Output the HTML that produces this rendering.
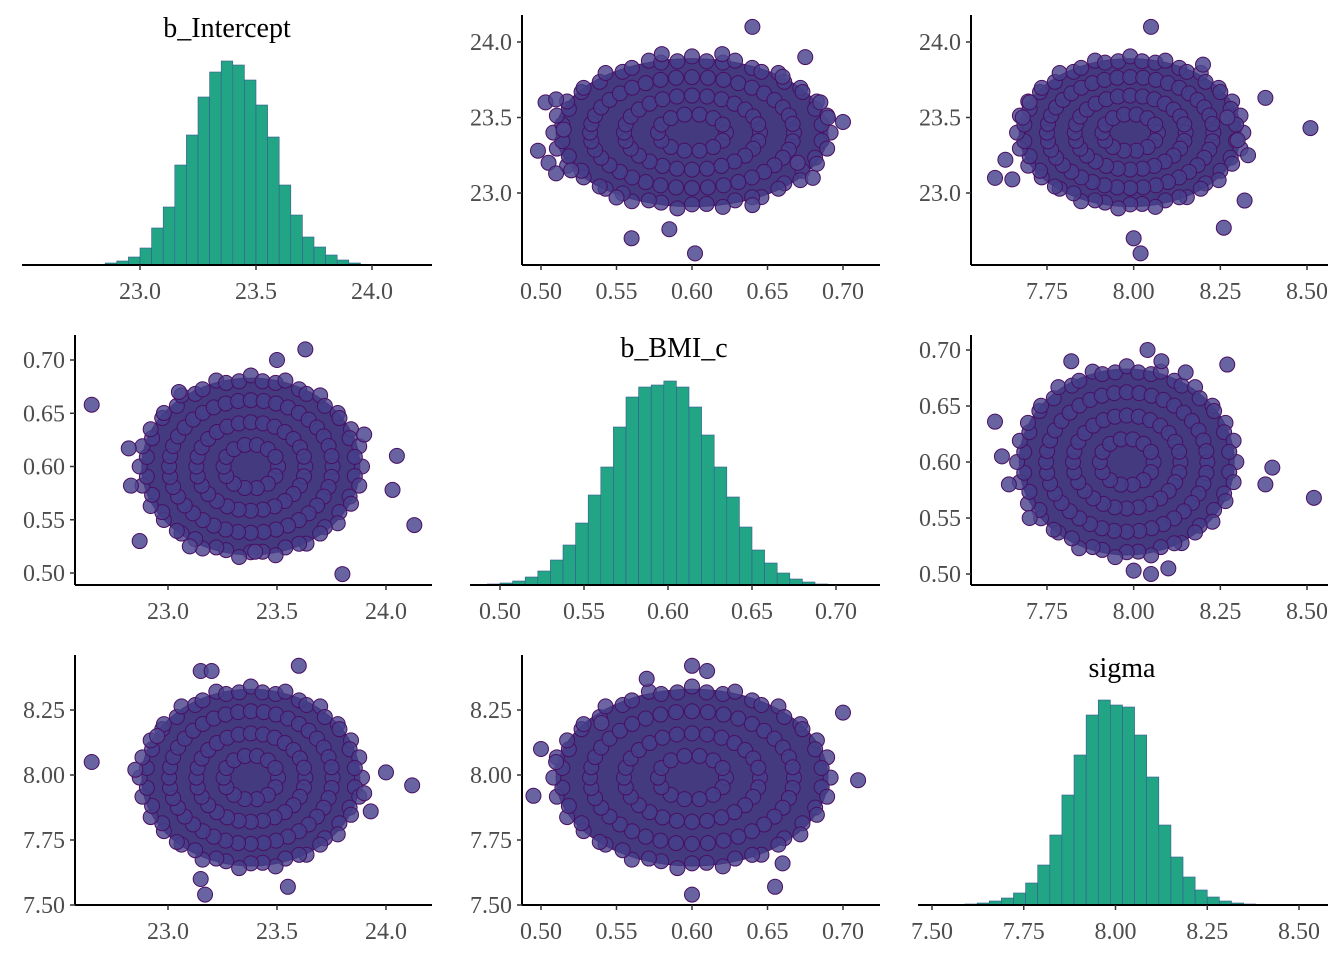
<!DOCTYPE html>
<html><head><meta charset="utf-8"><style>
html,body{margin:0;padding:0;background:#fff;}
svg{display:block;font-family:"Liberation Serif",serif;}
</style></head><body>
<svg id="chart" width="1344" height="960" viewBox="0 0 1344 960"></svg>
<script>
// ---- data ----
const histInterceptStart = 22.85, histInterceptWidth = 0.05;
const histInterceptCounts = [2,4,8,17,37,58,100,130,168,193,204,200,185,160,128,80,50,28,18,10,5,2];
const histBmiStart = 0.4925, histBmiWidth = 0.0075;
const histBmiCounts = [1,2,4,8,14,25,40,62,90,118,158,188,198,200,204,198,178,150,118,88,58,35,22,12,6,3,1];
const histSigmaStart = 7.59, histSigmaWidth = 0.033;
const histSigmaCounts = [1,2,4,7,12,22,40,70,110,150,190,205,200,198,170,128,80,48,28,15,8,4,2,1];
const xTicksIntercept = [23.0,23.5,24.0];
const xTicksBmi = [0.50,0.55,0.60,0.65,0.70];
const xTicksSigma = [7.50,7.75,8.00,8.25,8.50];
const yTicksIntercept = [23.0,23.5,24.0];
const yTicksBmi = [0.50,0.55,0.60,0.65,0.70];
const yTicksSigma = [7.50,7.75,8.00,8.25];
const center_bmi_int = [0.600,23.40], spread_bmi_int = [0.090,0.49];
const outliers_bmi_int = [[0.498,23.28],[0.503,23.60],[0.51,23.62],[0.505,23.2],[0.51,23.13],[0.515,23.42],[0.52,23.15],[0.56,22.7],[0.585,22.76],[0.602,22.6],[0.64,24.1],[0.62,23.92],[0.58,23.92],[0.685,23.6],[0.69,23.5],[0.70,23.47],[0.675,23.9],[0.68,23.1],[0.66,23.77],[0.55,22.97],[0.64,22.92],[0.67,23.2]];
const center_sig_int = [7.99,23.40], spread_sig_int = [0.32,0.49];
const outliers_sig_int = [[7.6,23.1],[7.63,23.22],[7.65,23.09],[7.68,23.5],[8.0,22.7],[8.02,22.6],[8.05,24.1],[8.38,23.63],[8.51,23.43],[8.33,23.25],[8.32,22.95],[8.26,22.77],[8.30,23.35],[8.27,23.5],[7.7,23.6],[8.2,23.85]];
const center_int_bmi = [23.38,0.600], spread_int_bmi = [0.50,0.083];
const outliers_int_bmi = [[22.65,0.658],[22.82,0.617],[22.83,0.582],[22.87,0.53],[24.05,0.61],[24.03,0.578],[24.13,0.545],[23.8,0.499],[23.63,0.71],[23.5,0.70],[23.05,0.67],[23.1,0.525],[23.4,0.52],[23.9,0.63]];
const center_sig_bmi = [7.98,0.600], spread_sig_bmi = [0.31,0.083];
const outliers_sig_bmi = [[7.6,0.636],[7.62,0.605],[7.64,0.58],[8.52,0.568],[8.4,0.595],[8.38,0.58],[8.04,0.70],[8.08,0.69],[7.82,0.69],[8.27,0.687],[8.0,0.503],[8.05,0.50],[8.1,0.505],[8.15,0.68],[7.7,0.55]];
const center_int_sig = [23.38,7.99], spread_int_sig = [0.50,0.34];
const outliers_int_sig = [[22.65,8.05],[22.85,8.02],[24.12,7.96],[24.0,8.01],[23.9,7.93],[23.6,8.42],[23.15,8.4],[23.2,8.4],[23.55,7.57],[23.17,7.54],[23.15,7.6],[23.93,7.86],[22.95,8.15]];
const center_bmi_sig = [0.600,7.99], spread_bmi_sig = [0.090,0.34];
const outliers_bmi_sig = [[0.495,7.92],[0.50,8.1],[0.51,8.05],[0.60,7.54],[0.655,7.57],[0.71,7.98],[0.70,8.24],[0.60,8.42],[0.61,8.4],[0.57,8.37],[0.54,8.2],[0.66,7.66]];

const NS='http://www.w3.org/2000/svg';
const svg=document.getElementById('chart');
function mk(tag,attrs,parent){const e=document.createElementNS(NS,tag);for(const k in attrs)e.setAttribute(k,attrs[k]);(parent||svg).appendChild(e);return e;}
function lin(d0,p0,d1,p1){return v=>p0+(v-d0)*(p1-p0)/(d1-d0);}

const sx = {
  int1: lin(23.0,140,24.0,372), bmi1: lin(0.50,541,0.70,843), sig1: lin(7.75,1047,8.50,1307),
  int2: lin(23.0,168,24.0,386), bmi2: lin(0.50,500,0.70,836), sig2: lin(7.50,932,8.50,1299)
};
const sy = {
  int1: lin(23.0,193,24.0,42), bmi2: lin(0.50,573,0.70,360), bmi3: lin(0.50,574,0.70,350),
  sig3: lin(7.50,905,8.25,710)
};

function xAxis(g,x0,x1,y,ticks,sc,fmt){
  const a=mk('g',{},g);
  
  
  mk('line',{x1:x0,x2:x1,y1:y,y2:y,stroke:'#000','stroke-width':2},a);
  ticks.forEach(t=>{const px=sc(t);
    mk('line',{x1:px,x2:px,y1:y,y2:y+5,stroke:'#333','stroke-width':1.5},a);
    const tx=mk('text',{x:px,y:y+34,'text-anchor':'middle','font-size':24,fill:'#4d4d4d'},a);tx.textContent=t.toFixed(fmt);
    
    
  });
}
function yAxis(g,x,y0,y1,ticks,sc,fmt){
  const a=mk('g',{},g);
  
  
  mk('line',{x1:x,x2:x,y1:y0,y2:y1,stroke:'#000','stroke-width':2},a);
  ticks.forEach(t=>{const py=sc(t);
    mk('line',{x1:x-5,x2:x,y1:py,y2:py,stroke:'#333','stroke-width':1.5},a);
    const tx=mk('text',{x:x-10,y:py+8,'text-anchor':'end','font-size':24,fill:'#4d4d4d'},a);tx.textContent=t.toFixed(fmt);
    
    
  });
}
function hist(name,start,w,counts,sc,base,title,tx,x0,x1,ticks,fmt){
  const g=mk('g',{});
  
  
  counts.forEach((c,i)=>{
    const a=sc(start+i*w), b=sc(start+(i+1)*w);
    const r=mk('rect',{x:a,y:base-c,width:b-a,height:c,fill:'#21a585',stroke:'#3d5a92','stroke-width':0.6},g);
    
    
  });
  xAxis(g,x0,x1,base,ticks,sc,fmt);
  const t=mk('text',{x:tx,y:base-228,'text-anchor':'middle','font-size':28,fill:'#000'},g);t.textContent=title;
  
  
}
function scatter(name,center,spread,outs,fx,fy,ax){
  const g=mk('g',{});
  
  
  const cx=fx(center[0]),cy=fy(center[1]);
  const rx=Math.abs(fx(center[0]+spread[0])-cx), ry=Math.abs(fy(center[1]+spread[1])-cy);
  mk('ellipse',{cx:cx,cy:cy,rx:rx,ry:ry,fill:'#433a80',stroke:'#4a0f62','stroke-width':1},g);
  const pts=[];
  for(let k=0;k<56;k++){const a=k/56*Math.PI*2;pts.push([cx+Math.cos(a)*rx*(k%2?0.96:1.02),cy+Math.sin(a)*ry*(k%3?0.97:1.03)]);}
  for(let k=0;k<40;k++){const a=k/40*Math.PI*2;pts.push([cx+Math.cos(a)*rx*0.75,cy+Math.sin(a)*ry*0.75]);}
  for(let k=0;k<28;k++){const a=k/28*Math.PI*2;pts.push([cx+Math.cos(a)*rx*0.5,cy+Math.sin(a)*ry*0.5]);}
  for(let k=0;k<14;k++){const a=k/14*Math.PI*2;pts.push([cx+Math.cos(a)*rx*0.25,cy+Math.sin(a)*ry*0.25]);}
  pts.forEach(p=>mk('circle',{cx:p[0],cy:p[1],r:7.5,fill:'#46408a','fill-opacity':0.8,stroke:'#4a0f62','stroke-width':1},g));
  outs.forEach(o=>{
    const c=mk('circle',{cx:fx(o[0]),cy:fy(o[1]),r:7.5,fill:'#4e4890','fill-opacity':0.85,stroke:'#4a0f62','stroke-width':1},g);
    
    
  });
  xAxis(g,ax.x0,ax.x1,ax.base,ax.xt,fx,ax.xf);
  yAxis(g,ax.x0,ax.top,ax.base,ax.yt,fy,ax.yf);
}

hist('hist-b-intercept',histInterceptStart,histInterceptWidth,histInterceptCounts,sx.int1,265,'b_Intercept',227,22,432,xTicksIntercept,1);
hist('hist-b-bmi-c',histBmiStart,histBmiWidth,histBmiCounts,sx.bmi2,585,'b_BMI_c',674,470,880,xTicksBmi,2);
hist('hist-sigma',histSigmaStart,histSigmaWidth,histSigmaCounts,sx.sig2,905,'sigma',1122,918,1328,xTicksSigma,2);

scatter('scatter-bmi-vs-intercept',center_bmi_int,spread_bmi_int,outliers_bmi_int,sx.bmi1,sy.int1,{x0:522,x1:880,base:265,top:15,xt:xTicksBmi,xf:2,yt:yTicksIntercept,yf:1});
scatter('scatter-sigma-vs-intercept',center_sig_int,spread_sig_int,outliers_sig_int,sx.sig1,sy.int1,{x0:971,x1:1328,base:265,top:15,xt:xTicksSigma.slice(1),xf:2,yt:yTicksIntercept,yf:1});
scatter('scatter-intercept-vs-bmi',center_int_bmi,spread_int_bmi,outliers_int_bmi,sx.int2,sy.bmi2,{x0:75,x1:432,base:585,top:335,xt:xTicksIntercept,xf:1,yt:yTicksBmi,yf:2});
scatter('scatter-sigma-vs-bmi',center_sig_bmi,spread_sig_bmi,outliers_sig_bmi,sx.sig1,sy.bmi3,{x0:971,x1:1328,base:585,top:335,xt:xTicksSigma.slice(1),xf:2,yt:yTicksBmi,yf:2});
scatter('scatter-intercept-vs-sigma',center_int_sig,spread_int_sig,outliers_int_sig,sx.int2,sy.sig3,{x0:75,x1:432,base:905,top:655,xt:xTicksIntercept,xf:1,yt:yTicksSigma,yf:2});
scatter('scatter-bmi-vs-sigma',center_bmi_sig,spread_bmi_sig,outliers_bmi_sig,sx.bmi1,sy.sig3,{x0:522,x1:880,base:905,top:655,xt:xTicksBmi,xf:2,yt:yTicksSigma,yf:2});
</script>
</body></html>
